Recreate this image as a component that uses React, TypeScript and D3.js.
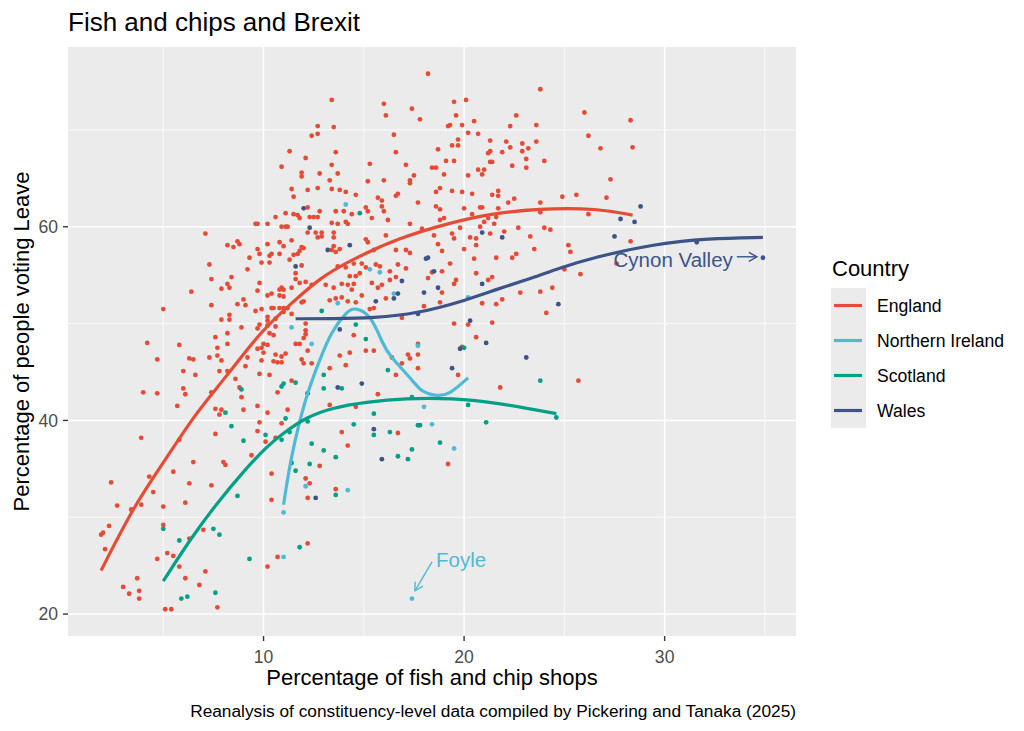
import React from "react";
import * as d3 from "d3";

type Pt = [number, number];

// [percentage of fish and chip shops, percentage voting Leave]
const englandPoints: Pt[] = [
  [4.2,48.0],[5.8,47.8],[4.7,46.3],[6.3,46.4],[6.5,46.3],[6.0,45.1],[6.6,44.7],[4.0,42.9],[4.7,42.8],[6.0,43.3],
  [6.1,42.7],[5.7,41.5],[3.9,38.2],[5.8,38.0],[5.5,34.7],[6.5,35.7],[4.3,34.2],[2.4,33.6],[4.5,32.6],[6.3,33.5],
  [6.1,31.5],[2.7,31.2],[3.4,30.8],[3.9,31.3],[2.3,29.1],[1.9,28.2],[2.0,28.4],[2.1,26.7],[5.0,31.1],[5.0,29.2],
  [4.7,25.7],[5.2,26.3],[5.5,26.0],[5.8,24.9],[6.1,23.7],[6.8,23.0],[7.1,24.4],[7.0,28.7],[6.3,27.8],[3.7,23.7],
  [3.0,22.8],[3.3,22.1],[3.8,22.4],[3.8,21.6],[5.1,20.5],[5.4,20.5],[7.7,20.7],[7.6,48.6],[8.2,49.0],[7.7,47.5],
  [8.2,47.9],[7.3,46.5],[7.7,46.7],[7.9,46.2],[7.8,45.1],[8.2,45.1],[8.6,44.3],[9.1,45.6],[9.7,47.4],[9.9,46.2],
  [9.8,44.8],[10.0,47.9],[9.2,46.5],[8.8,43.4],[8.9,42.4],[9.0,41.1],[9.7,41.5],[9.8,39.8],[9.7,38.9],[10.1,37.8],
  [7.6,41.2],[7.9,41.1],[7.8,40.6],[7.6,38.6],[8.0,35.7],[8.1,35.4],[7.4,33.3],[9.4,36.4],[10.2,24.9],[7.4,42.9],
  [5.0,51.5],[7.1,59.3],[6.4,53.3],[7.4,54.6],[7.3,56.1],[7.4,51.9],[7.9,53.6],[8.2,54.1],[8.3,53.7],[8.4,54.8],
  [8.2,58.1],[8.5,57.9],[8.7,58.5],[8.8,58.2],[9.2,55.6],[8.7,52.0],[9.0,52.5],[9.1,51.9],[9.3,56.8],[8.3,50.9],
  [8.3,50.4],[7.9,50.4],[8.9,49.6],[9.6,51.3],[9.7,53.4],[9.8,54.2],[9.7,57.7],[9.8,57.2],[9.9,56.3],[9.6,60.3],
  [9.7,60.3],[10.2,60.3],[10.6,61.0],[11.1,61.4],[11.5,61.3],[11.7,61.2],[11.8,60.9],[12.2,62.0],[12.3,61.0],[12.5,61.0],
  [12.7,61.0],[12.8,61.6],[13.6,61.6],[14.0,61.6],[14.4,61.3],[10.9,60.0],[11.1,60.0],[11.2,60.0],[12.2,59.4],[12.6,59.4],
  [12.9,59.4],[12.7,58.9],[12.9,59.0],[13.4,60.4],[13.7,60.3],[14.1,60.5],[14.2,60.3],[13.5,59.4],[13.5,58.9],[10.2,58.2],
  [10.8,58.4],[11.0,58.0],[11.4,58.6],[11.9,57.9],[12.0,57.8],[11.8,57.5],[11.7,57.2],[11.5,57.1],[11.3,56.6],[10.8,57.2],
  [10.4,57.2],[10.3,57.0],[10.3,56.3],[11.9,56.0],[11.6,55.2],[11.6,54.6],[11.8,54.2],[12.1,54.3],[10.2,52.9],[10.4,53.1],
  [10.8,53.5],[10.9,53.7],[11.0,53.5],[10.8,52.9],[11.0,52.8],[11.4,53.7],[12.4,54.0],[13.1,54.0],[13.5,53.7],[13.9,54.1],
  [14.2,54.0],[14.5,54.1],[14.4,53.5],[14.8,55.2],[14.6,54.9],[14.3,54.9],[13.7,55.9],[14.1,55.8],[14.5,56.2],[13.6,57.4],
  [13.4,57.6],[13.8,57.7],[13.5,58.0],[12.0,52.3],[11.9,52.2],[13.3,52.4],[13.6,52.6],[13.9,52.7],[14.2,52.3],[14.6,52.2],
  [9.9,51.5],[10.4,51.6],[10.5,51.6],[10.8,51.6],[11.0,51.6],[11.2,51.6],[11.0,51.2],[11.4,51.0],[10.2,50.7],[10.6,50.5],
  [10.2,50.3],[10.2,49.8],[10.6,49.7],[9.8,49.9],[9.7,49.5],[12.1,50.0],[12.1,49.3],[12.1,48.9],[12.0,48.5],[11.8,47.9],
  [11.6,47.9],[11.9,46.3],[12.0,45.9],[12.2,47.2],[12.4,45.9],[13.3,45.4],[13.8,46.7],[14.1,45.7],[14.3,47.0],[14.5,48.8],
  [10.3,49.0],[10.5,48.8],[10.6,46.8],[11.1,46.9],[10.9,46.6],[10.7,46.0],[10.9,46.0],[10.5,46.1],[9.9,47.5],[10.0,47.0],
  [10.2,47.8],[10.3,44.7],[11.4,44.1],[10.7,42.9],
  [13.4,73.1],[12.7,70.4],[13.5,70.3],[12.4,69.4],[12.7,69.6],[11.3,67.8],[13.6,67.7],[12.1,67.1],[10.9,66.2],[13.4,66.4],
  [11.9,65.6],[11.9,65.2],[12.8,65.5],[13.7,65.5],[13.3,64.8],[11.4,63.9],[12.2,63.8],[12.7,64.0],[13.4,63.9],[13.8,63.8],
  [14.1,63.6],[11.5,63.1],[14.6,63.3],[16.0,72.7],[16.1,71.5],[18.2,75.8],[17.4,72.2],[17.8,71.1],[19.2,70.4],[16.5,69.5],
  [16.6,67.7],[18.7,68.0],[19.1,66.8],[15.3,66.5],[17.1,66.4],[18.4,66.1],[18.6,66.1],[17.5,65.3],[15.2,64.7],[16.0,64.8],
  [17.3,64.8],[17.3,64.5],[19.0,65.4],[18.8,64.0],[18.6,63.6],[16.6,63.2],[16.7,63.4],[15.7,63.0],[15.9,62.7],[17.7,62.5],
  [18.6,62.1],[18.8,61.8],[15.1,62.0],[15.2,61.6],[15.4,60.9],[15.9,62.1],[16.0,61.6],[16.2,60.7],[16.1,59.1],[15.1,58.7],
  [15.2,58.4],[15.5,57.6],[16.6,57.6],[17.3,60.3],[17.1,57.6],[17.3,57.3],[17.9,59.8],[18.5,59.1],[18.7,58.2],[18.9,57.5],
  [18.8,60.7],[19.0,60.9],
  [23.8,74.2],[19.5,72.9],[20.1,73.1],[19.6,71.5],[19.3,70.5],[19.9,70.5],[20.5,70.9],[26.0,71.8],[28.3,71.0],[22.6,71.5],
  [22.3,70.4],[23.6,70.5],[20.2,69.7],[20.7,69.6],[26.2,69.4],[28.4,68.2],[19.7,69.0],[19.4,68.4],[19.7,68.4],[21.3,68.9],
  [22.1,68.8],[22.9,68.6],[23.6,68.8],[22.3,68.2],[23.2,68.1],[21.3,67.8],[21.2,67.6],[21.9,67.7],[22.9,67.8],[26.8,68.1],
  [19.5,66.8],[21.3,66.7],[21.4,66.7],[23.1,67.0],[24.0,66.8],[22.4,66.3],[23.1,66.1],[20.7,65.9],[21.0,65.9],[20.9,65.4],
  [20.2,65.3],[27.3,64.9],[19.4,63.7],[19.9,63.6],[20.4,63.4],[21.7,63.7],[21.7,63.2],[21.4,63.3],[22.5,62.9],[22.2,62.5],
  [24.9,63.1],[25.6,63.3],[27.1,63.0],[23.8,62.5],[20.0,61.9],[20.8,62.0],[20.9,62.0],[21.7,61.9],[21.2,60.9],[21.6,61.0],
  [21.0,60.5],[20.4,61.3],[21.5,60.3],[20.8,60.0],[19.8,59.9],[23.8,61.5],[26.2,61.3],[24.0,59.9],[24.3,59.7],[22.7,59.9],
  [22.0,59.5],[21.3,59.3],[19.4,59.3],[19.5,58.8],[20.3,58.9],[20.6,58.8],[20.6,58.1],[23.3,59.0],[20.0,57.7],[20.5,56.7],
  [21.6,56.8],[22.4,56.8],[22.6,57.2],[23.5,57.7],[25.2,58.1],[25.3,57.4],[28.3,58.5],
  [15.1,55.8],[14.9,56.2],[15.6,56.1],[15.8,55.9],[16.3,55.4],[17.1,55.7],[16.7,56.1],[15.4,54.2],[15.7,53.7],[15.9,54.0],
  [16.6,54.8],[16.3,54.5],[18.2,54.7],[18.4,55.3],[18.9,55.4],[19.3,56.2],[18.9,53.2],[18.8,52.2],[19.5,54.1],[19.6,54.5],
  [20.6,55.2],[21.2,54.5],[21.4,54.8],[14.9,52.9],[16.1,52.6],[18.0,51.8],[20.9,52.1],[21.6,52.0],[21.9,52.5],[22.8,53.2],
  [23.8,53.3],[24.4,53.7],[24.1,51.1],[15.5,51.6],[15.3,51.5],[16.9,50.6],[19.5,50.0],[20.2,49.9],[21.4,50.1],[20.6,48.6],
  [17.7,47.9],[17.7,46.8],[17.2,46.8],[17.3,46.4],[16.9,45.9],[16.4,46.5],[16.6,44.7],[17.7,45.4],[19.7,44.7],[19.9,47.6],
  [15.5,47.2],[15.1,47.2],[21.8,43.4],[15.7,42.7],
  [10.2,40.8],[11.2,41.1],[10.9,39.7],[10.6,38.2],[10.4,34.5],[10.4,31.8],[12.1,34.0],[12.3,33.5],[12.2,32.0],[12.8,35.3],
  [13.6,32.9],[13.3,41.6],[13.9,38.8],[14.2,37.4],[14.6,41.4],[16.7,38.7],[19.2,35.5],[12.2,27.3],[10.7,25.9],
  [25.0,55.6],[25.8,55.1],[27.6,56.2],[25.7,44.1],
];

const northernIrelandPoints: Pt[] = [
  [17.4,21.6],[11.0,30.5],[11.0,25.9],[12.1,33.2],[14.2,32.8],[18.0,41.4],[18.4,39.6],[19.5,37.1],[15.3,55.6],
  [15.8,55.3],[16.5,53.1],[17.7,47.7],[20.2,52.7],[14.1,62.3],[13.7,52.1],[11.4,49.6],[12.4,47.9],
];

const scotlandPoints: Pt[] = [
  [8.9,43.2],[8.1,40.8],[8.4,39.4],[9.0,37.9],[10.1,38.5],[8.7,32.2],[5.0,28.8],[5.8,27.6],[7.5,28.8],[7.8,28.2],
  [9.3,25.7],[5.9,21.6],[6.2,21.8],[7.6,22.2],[12.9,51.3],[14.6,49.9],[13.0,44.7],[11.6,43.9],[11.0,43.8],[10.9,43.5],
  [13.0,43.3],[13.9,43.3],[14.8,61.4],[15.1,48.4],[16.2,45.2],[17.4,42.4],[20.0,47.5],[20.2,41.6],[21.1,39.8],[23.8,44.1],
  [24.6,40.3],[15.5,40.7],[14.5,39.6],[15.5,38.5],[16.3,38.8],[17.7,39.5],[17.8,39.5],[18.8,37.7],[17.4,37.0],[16.7,36.3],
  [17.2,36.0],[11.1,40.2],[10.9,38.0],[11.3,38.8],[12.2,39.9],[12.4,37.6],[13.0,36.9],[13.6,36.2],[12.3,35.5],[11.4,35.6],
  [11.6,34.8],[13.6,32.3],[11.8,26.9],
];

const walesPoints: Pt[] = [
  [12.0,61.9],[12.3,59.9],[13.2,57.6],[14.3,58.1],[11.6,55.9],[13.8,49.4],[13.7,43.4],[12.2,42.8],[18.1,56.7],[18.2,56.8],
  [18.5,55.4],[16.9,54.4],[16.7,53.1],[16.5,52.6],[15.6,52.3],[18.0,53.2],[18.7,53.7],[20.9,54.1],[17.7,51.0],[20.3,50.3],
  [21.1,48.0],[19.8,47.4],[19.4,45.4],[23.1,46.5],[24.7,52.0],[14.9,43.8],[15.5,39.1],[15.9,36.0],[12.6,32.0],[20.9,59.4],
  [21.9,58.9],[27.5,59.0],[27.8,60.8],[28.5,60.5],[28.8,62.1],[31.6,58.4],[34.9,56.8],
];

// loess fits
const englandFit: Pt[] = [
  [1.9,24.5],[3.6,31.4],[5.1,35.9],[6.6,40.7],[8.1,44.4],[9.9,49.3],[11.4,52.1],[12.8,54.7],
  [14.3,56.5],[16.8,58.9],[19.3,60.4],[21.2,61.3],[23.7,61.9],[26.7,61.9],[28.4,61.2],
];
const northernIrelandFit: Pt[] = [
  [11.0,31.3],[11.4,36.2],[12.1,42.1],[12.8,46.2],[13.4,49.0],[14.1,51.0],[14.6,51.5],[15.3,50.6],
  [15.9,48.2],[16.4,46.5],[17.3,44.4],[17.9,43.1],[18.6,42.6],[19.3,42.9],[20.2,44.4],
];
const scotlandFit: Pt[] = [
  [5.0,23.4],[6.4,27.9],[7.7,31.5],[8.9,34.5],[10.2,37.4],[11.0,38.7],[12.1,40.3],[13.4,41.3],
  [15.1,41.9],[17.1,42.3],[19.4,42.3],[21.7,41.8],[24.6,40.7],
];
const walesFit: Pt[] = [
  [11.6,50.5],[13.5,50.5],[15.5,50.6],[17.6,51.0],[20.1,52.4],[21.7,53.6],[23.4,54.7],[24.7,55.7],
  [26.4,56.8],[29.4,58.2],[32.2,58.8],[34.9,58.9],
];

const countries = ["England", "Northern Ireland", "Scotland", "Wales"];
const countryColors = ["#E64B35", "#4DBBD5", "#00A087", "#3C5488"];
const pointSets = [englandPoints, northernIrelandPoints, scotlandPoints, walesPoints];
const fitSets = [englandFit, northernIrelandFit, scotlandFit, walesFit];

const xMajor = [10, 20, 30];
const xMinor = [5, 15, 25, 35];
const yMajor = [20, 40, 60];
const yMinor = [30, 50, 70];

const W = 1024;
const H = 731;
const panel = { left: 68, right: 796, top: 47, bottom: 636 };
const font = "'Liberation Sans', Arial, sans-serif";

function expand([a, b]: [number, number]): [number, number] {
  const pad = (b - a) * 0.05;
  return [a - pad, b + pad];
}

export default function App() {
  const all = pointSets.flat();
  const x = d3
    .scaleLinear()
    .domain(expand(d3.extent(all, (d) => d[0]) as [number, number]))
    .range([panel.left, panel.right]);
  const y = d3
    .scaleLinear()
    .domain(expand(d3.extent(all, (d) => d[1]) as [number, number]))
    .range([panel.bottom, panel.top]);

  // B-spline smooths out the small kinks of the hand-read fit values
  const smooth = d3
    .line<Pt>()
    .x((d) => x(d[0]))
    .y((d) => y(d[1]))
    .curve(d3.curveBasis);
  const wiggly = d3
    .line<Pt>()
    .x((d) => x(d[0]))
    .y((d) => y(d[1]))
    .curve(d3.curveNatural);

  const legendTop = 288;
  const keyH = 35;

  return (
    <div style={{ position: "absolute", left: 0, top: 0 }}>
      <svg width={W} height={H} style={{ display: "block", background: "#fff" }} fontFamily={font}>
        <defs>
          <marker id="arrowWales" viewBox="-10 -6 12 12" markerWidth={12} markerHeight={12}
            markerUnits="userSpaceOnUse" orient="auto" refX={0} refY={0}>
            <path d="M-8,-4.5L0,0L-8,4.5" fill="none" stroke="#3C5488" strokeWidth={1.4} />
          </marker>
          <marker id="arrowNI" viewBox="-10 -6 12 12" markerWidth={12} markerHeight={12}
            markerUnits="userSpaceOnUse" orient="auto" refX={0} refY={0}>
            <path d="M-8,-4.5L0,0L-8,4.5" fill="none" stroke="#4DBBD5" strokeWidth={1.4} />
          </marker>
        </defs>

        {/* panel */}
        <rect x={panel.left} y={panel.top} width={panel.right - panel.left}
          height={panel.bottom - panel.top} fill="#EBEBEB" />
        {xMinor.map((t) => (
          <line key={"xm" + t} x1={x(t)} x2={x(t)} y1={panel.top} y2={panel.bottom} stroke="#fff" strokeWidth={0.75} />
        ))}
        {yMinor.map((t) => (
          <line key={"ym" + t} y1={y(t)} y2={y(t)} x1={panel.left} x2={panel.right} stroke="#fff" strokeWidth={0.75} />
        ))}
        {xMajor.map((t) => (
          <line key={"xM" + t} x1={x(t)} x2={x(t)} y1={panel.top} y2={panel.bottom} stroke="#fff" strokeWidth={1.5} />
        ))}
        {yMajor.map((t) => (
          <line key={"yM" + t} y1={y(t)} y2={y(t)} x1={panel.left} x2={panel.right} stroke="#fff" strokeWidth={1.5} />
        ))}

        {/* points */}
        {pointSets.map((pts, i) => (
          <g key={"p" + i} fill={countryColors[i]}>
            {pts.map((d, j) => (
              <circle key={j} cx={x(d[0])} cy={y(d[1])} r={2.4} />
            ))}
          </g>
        ))}

        {/* smooths */}
        {fitSets.map((fit, i) => (
          <path key={"f" + i} d={(i === 1 ? wiggly(fit) : smooth(fit)) ?? ""} fill="none"
            stroke={countryColors[i]} strokeWidth={3.2} strokeLinecap="butt" />
        ))}

        {/* annotations */}
        <text x={x(33.4)} y={y(56.6)} dy="0.35em" textAnchor="end" fontSize={20.5} fill="#3C5488">
          Cynon Valley
        </text>
        <line x1={x(33.6)} x2={x(34.6)} y1={y(56.9)} y2={y(56.9)} stroke="#3C5488" strokeWidth={1.4}
          markerEnd="url(#arrowWales)" />
        <text x={x(18.6)} y={y(25.6)} dy="0.35em" textAnchor="start" fontSize={20.5} fill="#4DBBD5">
          Foyle
        </text>
        <line x1={x(18.4)} y1={y(25.4)} x2={x(17.55)} y2={y(22.4)} stroke="#4DBBD5" strokeWidth={1.4}
          markerEnd="url(#arrowNI)" />

        {/* axes */}
        {xMajor.map((t) => (
          <g key={"xt" + t}>
            <line x1={x(t)} x2={x(t)} y1={panel.bottom} y2={panel.bottom + 5} stroke="#333" strokeWidth={1.4} />
            <text x={x(t)} y={panel.bottom + 27} textAnchor="middle" fontSize={17.6} fill="#4D4D4D">
              {t}
            </text>
          </g>
        ))}
        {yMajor.map((t) => (
          <g key={"yt" + t}>
            <line x1={panel.left - 5} x2={panel.left} y1={y(t)} y2={y(t)} stroke="#333" strokeWidth={1.4} />
            <text x={panel.left - 10} y={y(t)} dy="0.36em" textAnchor="end" fontSize={17.6} fill="#4D4D4D">
              {t}
            </text>
          </g>
        ))}
        <text x={(panel.left + panel.right) / 2} y={685} textAnchor="middle" fontSize={22} fill="#000">
          Percentage of fish and chip shops
        </text>
        <text transform={`translate(29,${(panel.top + panel.bottom) / 2}) rotate(-90)`} textAnchor="middle"
          fontSize={22} fill="#000">
          Percentage of people voting Leave
        </text>

        {/* title and caption */}
        <text x={panel.left} y={31} fontSize={26} fill="#000">
          Fish and chips and Brexit
        </text>
        <text x={panel.right} y={717} textAnchor="end" fontSize={17.3} fill="#000">
          Reanalysis of constituency-level data compiled by Pickering and Tanaka (2025)
        </text>

        {/* legend */}
        <text x={832} y={276} fontSize={22} fill="#000">
          Country
        </text>
        <rect x={831} y={legendTop} width={35} height={keyH * countries.length} fill="#EBEBEB" />
        {countries.map((c, i) => {
          const cy = legendTop + keyH * i + keyH / 2;
          return (
            <g key={c}>
              <line x1={834} x2={862} y1={cy} y2={cy} stroke={countryColors[i]} strokeWidth={3.2} />
              <text x={877} y={cy} dy="0.36em" fontSize={17.6} fill="#000">
                {c}
              </text>
            </g>
          );
        })}
      </svg>
    </div>
  );
}
